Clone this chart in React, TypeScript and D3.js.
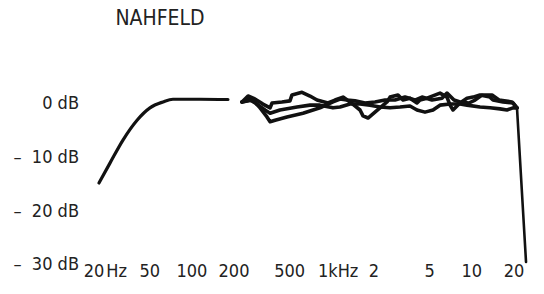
// React
import { useEffect, useRef } from 'react';

// Installed Packages
import * as d3 from 'd3';

type Pt = [number, number]; // [frequency Hz, level dB]

// Bass roll-off (near field, below ~200 Hz)
const lowBand: Pt[] = [
    [21.7, -14.9], [26, -11.2], [32.2, -6.9], [40.6, -3.2], [50.2, -0.9],
    [62.2, 0.2], [73.3, 0.7], [114, 0.7], [181, 0.65]
];

// Three measured traces above 200 Hz
const traceUpper: Pt[] = [
    [228, 0.2], [252, 1.3], [282, 0.75], [322, -0.2], [362, -0.9], [374, 0], [440, 0.2],
    [502, 0.4], [519, 1.5], [612, 2.0], [698, 1.3], [783, 0.55], [938, 0], [1053, 0.55],
    [1201, 1.1], [1348, 0.2], [1589, -1.3], [1669, -2.4], [1813, -2.8], [2033, -1.7],
    [2207, -0.9], [2477, 0.2], [2603, 1.1], [2968, 1.5], [3222, 0.55], [3615, 0.9],
    [4056, 0], [4262, 0.55], [4782, 0.9], [5923, 1.85], [6645, 1.1], [6982, -0.4],
    [7335, -1.3], [8228, 0], [9233, 0.9], [10190, 1.1], [11437, 1.5], [13480, 1.1],
    [14160, 0.55], [16690, 0.2], [19680, 0], [21010, -0.9]
];

const traceMiddle: Pt[] = [
    [228, 0.2], [260, 0.55], [292, -0.2], [333, -1.3], [362, -1.9], [426, -1.3],
    [564, -0.75], [698, -0.4], [823, -0.4], [1019, -0.9], [1144, -0.75], [1348, -0.2],
    [1589, -0.2], [1873, -0.4], [2207, -0.75], [2603, -0.9], [3067, -0.75], [3615, -0.55],
    [4056, -1.3], [4627, -1.7], [5279, -1.3], [5923, -0.4], [6982, -0.2], [8228, -0.2],
    [9233, -0.4], [11437, -0.75], [13480, -0.9], [15890, -1.1], [17820, -1.3],
    [19680, -0.9], [21010, -0.9]
];

const traceLower: Pt[] = [
    [228, 0.2], [273, 0.55], [307, -0.9], [344, -2.6], [362, -3.5], [393, -3.2],
    [478, -2.6], [622, -1.9], [823, -0.9], [1019, 0.2], [1144, 0.75], [1283, 0.55],
    [1463, 0.4], [1725, 0], [2033, 0.2], [2397, 0.55], [2825, 0.55], [3331, 1.1],
    [3925, 0.55], [4405, 1.1], [5193, 0.55], [6119, 0.9], [6645, 1.85], [7456, 0.55],
    [8228, 0.2], [9541, 0], [10530, 0.55], [11819, 1.5], [13930, 1.5], [15630, 0.55],
    [19350, 0.2], [21010, -0.9]
];

// Steep top-end cut-off
const rollOff: Pt[] = [[21010, -0.9], [24370, -29.6]];

const yTicks = [0, -10, -20, -30];
const yTickLabels = ['0 dB', '–  10 dB', '–  20 dB', '–  30 dB'];

const xTicks = [20, 50, 100, 200, 500, 1000, 2000, 5000, 10000, 20000];
const xTickNumbers = ['20', '50', '100', '200', '500', '1k', '2', '5', '10', '20'];
const xTickUnits = ['Hz', '', '', '', '', 'Hz', '', '', '', ''];

const title = 'NAHFELD';

const FONT = '"Liberation Sans Narrow", "DejaVu Sans Condensed", "Liberation Sans", sans-serif';

export default function App() {

    let ref = useRef<SVGSVGElement>(null);

    useEffect(() => {
        document.body.style.margin = '0';

        const svg = d3.select(ref.current);
        svg.selectAll('*').remove();

        svg.append('rect').attr('width', 544).attr('height', 294).attr('fill', '#fff');

        let x = d3.scaleLog().domain([20, 20000]).range([94, 514]);
        let y = d3.scaleLinear().domain([0, -30]).range([103, 264]);

        // Title
        svg.append('text')
            .attr('x', 160)
            .attr('y', 25)
            .attr('text-anchor', 'middle')
            .style('font-family', FONT)
            .style('font-size', '21px')
            .attr('fill', '#222')
            .text(title);

        // Left labels
        svg.selectAll('text.ylab')
            .data(yTicks)
            .join('text')
            .attr('class', 'ylab')
            .attr('x', 79)
            .attr('y', d => y(d))
            .attr('dy', '0.36em')
            .attr('text-anchor', 'end')
            .style('white-space', 'pre')
            .style('font-family', FONT)
            .style('font-size', '18px')
            .attr('fill', '#222')
            .text((d, i) => yTickLabels[i]);

        // Bottom labels: number centred on the tick, unit trailing after it
        xTicks.forEach((f, i) => {
            let t = svg.append('text')
                .attr('y', y(-30) + 13)
                .style('font-family', FONT)
                .style('font-size', '18px')
                .attr('fill', '#222');
            let num = t.append('tspan').text(xTickNumbers[i]);
            if (xTickUnits[i]) t.append('tspan').attr('dx', f === 20 ? 2 : 0).text(xTickUnits[i]);
            let w = (num.node() as SVGTextContentElement).getComputedTextLength();
            t.attr('x', x(f) - w / 2 - (f === 1000 ? 4 : 0));
        });

        const line = d3.line<Pt>()
            .x(d => x(d[0]))
            .y(d => y(d[1]));

        svg.append('path')
            .datum(lowBand)
            .attr('d', line.curve(d3.curveMonotoneX))
            .attr('fill', 'none')
            .attr('stroke', '#111')
            .attr('stroke-width', 3.2)
            .attr('stroke-linecap', 'round');

        [traceUpper, traceMiddle, traceLower].forEach(tr => {
            svg.append('path')
                .datum(tr)
                .attr('d', line.curve(d3.curveLinear))
                .attr('fill', 'none')
                .attr('stroke', '#111')
                .attr('stroke-width', 3.6)
                .attr('stroke-linejoin', 'round')
                .attr('stroke-linecap', 'round');
        });

        svg.append('path')
            .datum(rollOff)
            .attr('d', line.curve(d3.curveLinear))
            .attr('fill', 'none')
            .attr('stroke', '#111')
            .attr('stroke-width', 2.6)
            .attr('stroke-linecap', 'round');

    }, [])

    return <svg ref={ref} width={544} height={294} style={{ display: 'block' }}></svg>
}
